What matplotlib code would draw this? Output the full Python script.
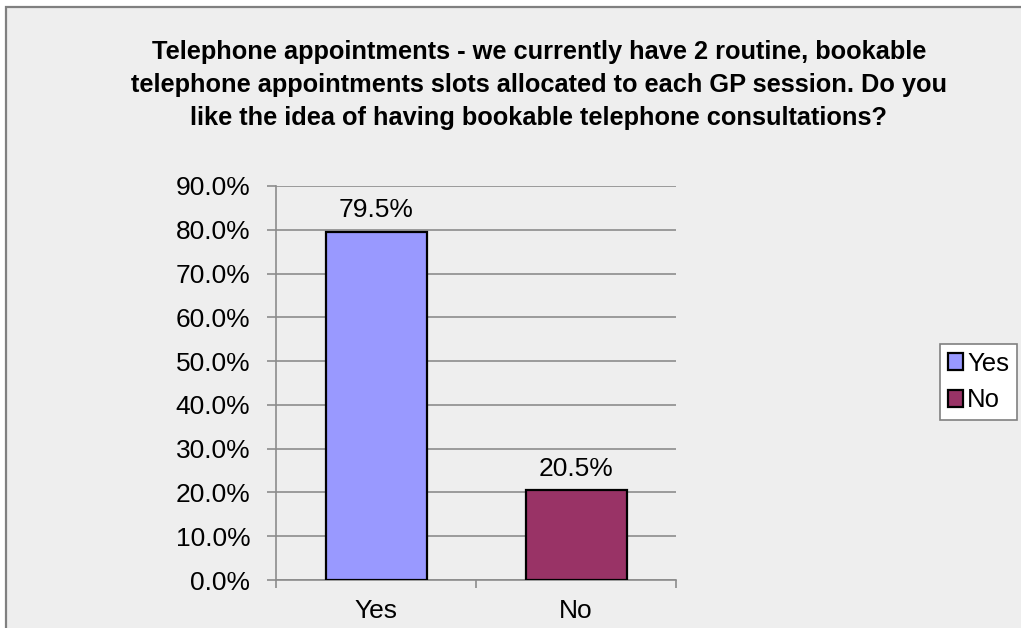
import matplotlib
matplotlib.use("Agg")
import matplotlib.pyplot as plt
from matplotlib.patches import Rectangle, Patch
from matplotlib.ticker import FixedLocator, FuncFormatter

plt.rcParams['font.family'] = ['Liberation Sans', 'DejaVu Sans']

title = ("Telephone appointments - we currently have 2 routine, bookable\n"
         "telephone appointments slots allocated to each GP session. Do you\n"
         "like the idea of having bookable telephone consultations?")
categories = ["Yes", "No"]
values = [79.5, 20.5]
colors = ["#9999FF", "#993366"]
yticks = [0, 10, 20, 30, 40, 50, 60, 70, 80, 90]

W, H = 1021, 628
fig = plt.figure(figsize=(W / 100, H / 100), dpi=100)
fig.patch.set_facecolor("white")

# chart frame
fig.patches.append(Rectangle((6 / W, -0.1), 1.2, (H - 7) / H + 0.1,
                             transform=fig.transFigure, facecolor="#eeeeee",
                             edgecolor="#808080", linewidth=1.6, zorder=-5))

ax = fig.add_axes([276 / W, (H - 580) / H, 400 / W, 394 / H])
ax.set_facecolor("none")

x = list(range(len(categories)))
bars = ax.bar(x, values, width=0.505, color=colors, edgecolor="black",
              linewidth=1.6, zorder=3)

for xi, v in zip(x, values):
    ax.annotate(f"{v:.1f}%", (xi, v), xytext=(0, 7), textcoords="offset points",
                ha="center", va="bottom", fontsize=19)

ax.set_xlim(-0.5, len(categories) - 0.5)
ax.set_ylim(0, 90)

ax.yaxis.set_major_locator(FixedLocator(yticks))
ax.yaxis.set_major_formatter(FuncFormatter(lambda v, p: f"{v:.1f}%"))
ax.grid(axis="y", color="#8c8c8c", linewidth=1.2, zorder=1)
ax.set_axisbelow(True)

ax.set_xticks([i - 0.5 for i in range(len(categories) + 1)])
ax.set_xticklabels([])
ax.set_xticks(x, minor=True)
ax.set_xticklabels(categories, minor=True)
ax.tick_params(axis="x", which="major", length=6, width=1.2, color="#8c8c8c",
               direction="out")
ax.tick_params(axis="x", which="minor", length=0, pad=14, labelsize=19)
ax.tick_params(axis="y", length=6.5, width=1.2, color="#8c8c8c", direction="out",
               labelsize=19, pad=12)

for side in ("top", "right"):
    ax.spines[side].set_visible(False)
for side in ("left", "bottom"):
    ax.spines[side].set_color("#8c8c8c")
    ax.spines[side].set_linewidth(1.2)

fig.text(539 / W, 1 - 85 / H, title, ha="center", va="center",
         fontsize=18.3, fontweight="bold", linespacing=1.47)

handles = [Patch(facecolor=c, edgecolor="black", linewidth=1.6) for c in colors]
leg = fig.legend(handles, categories, loc="center left",
                 bbox_to_anchor=(940 / W, 1 - 382 / H), fontsize=18.5,
                 frameon=True, fancybox=False, framealpha=1,
                 handlelength=0.6, handleheight=0.6, handletextpad=0.15,
                 borderpad=0.3, labelspacing=0.5, borderaxespad=0)
leg.get_frame().set_edgecolor("#808080")
leg.get_frame().set_linewidth(1.2)

fig.savefig("out.png", dpi=100)
